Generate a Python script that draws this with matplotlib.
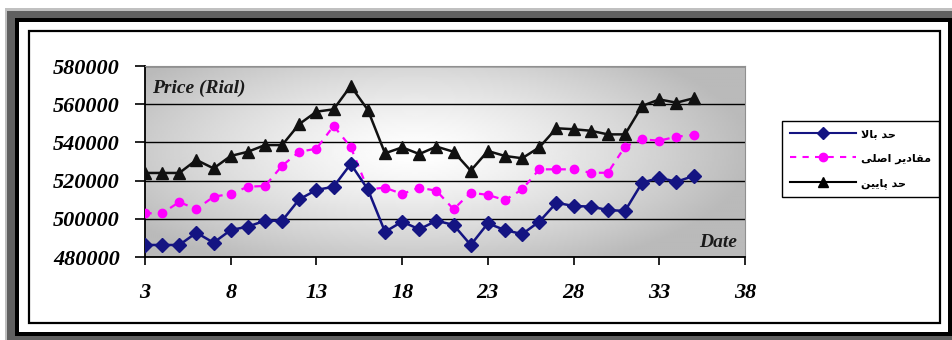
import numpy as np
import matplotlib
matplotlib.use('Agg')
import matplotlib.pyplot as plt
from matplotlib.patches import Rectangle
from matplotlib.lines import Line2D

# data
days = [3, 4, 5, 6, 7, 8, 9, 10, 11, 12, 13, 14, 15, 16, 17, 18, 19,
        20, 21, 22, 23, 24, 25, 26, 27, 28, 29, 30, 31, 32, 33, 34, 35]
upper = [486300, 486300, 486300, 492700, 487500, 494100, 495900, 499000, 499000,
         510200, 515100, 516800, 528700, 515400, 493200, 498500, 494500, 499000,
         496800, 486300, 497600, 494100, 492000, 498500, 508400, 506700, 506400,
         504600, 504100, 518900, 521500, 519400, 522400]
actual = [502900, 502900, 508800, 505000, 511600, 513000, 516800, 517200, 527800,
          535100, 536700, 548600, 537600, 515400, 516300, 513000, 516300, 514700,
          505000, 513700, 512500, 509800, 515400, 525900, 525900, 525900, 524100,
          524100, 537800, 541600, 540900, 543000, 543900]
lower = [524000, 524000, 524000, 530800, 526400, 532900, 535100, 538600, 538600,
         549600, 556100, 557300, 569500, 557000, 534300, 537400, 533900, 537800,
         535100, 525200, 535500, 532900, 531700, 537400, 547400, 546900, 546100,
         544200, 544200, 559100, 562500, 560800, 563100]
labels = ['حد بالا', 'مقادیر اصلی', 'حد پایین']
xticks = [3, 8, 13, 18, 23, 28, 33, 38]
yticks = [480000, 500000, 520000, 540000, 560000, 580000]

# tick labels etc. are bold italic serif
plt.rcParams['font.family'] = ['Liberation Serif']
plt.rcParams['font.weight'] = 'bold'
plt.rcParams['font.style'] = 'italic'

# matplotlib does no arabic shaping, so pick presentation forms by hand
FORMS = {
    'ا': ('\uFE8D', '\uFE8E', None, None),
    'ب': ('\uFE8F', '\uFE90', '\uFE91', '\uFE92'),
    'پ': ('\uFB56', '\uFB57', '\uFB58', '\uFB59'),
    'ح': ('\uFEA1', '\uFEA2', '\uFEA3', '\uFEA4'),
    'د': ('\uFEA9', '\uFEAA', None, None),
    'ر': ('\uFEAD', '\uFEAE', None, None),
    'ص': ('\uFEB9', '\uFEBA', '\uFEBB', '\uFEBC'),
    'ق': ('\uFED5', '\uFED6', '\uFED7', '\uFED8'),
    'ل': ('\uFEDD', '\uFEDE', '\uFEDF', '\uFEE0'),
    'م': ('\uFEE1', '\uFEE2', '\uFEE3', '\uFEE4'),
    'ن': ('\uFEE5', '\uFEE6', '\uFEE7', '\uFEE8'),
    'ی': ('\uFBFC', '\uFBFD', '\uFBFE', '\uFBFF'),
}


def shape(s):
    out = []
    i = 0
    while i < len(s):
        c = s[i]
        if c not in FORMS:
            out.append(c)
            i += 1
            continue
        prev = s[i-1] if i > 0 else None
        join_prev = prev in FORMS and FORMS[prev][2] is not None
        if c == 'ل' and i + 1 < len(s) and s[i+1] == 'ا':
            out.append('\uFEFC' if join_prev else '\uFEFB')
            i += 2
            continue
        nxt = s[i+1] if i + 1 < len(s) else None
        join_next = FORMS[c][2] is not None and nxt in FORMS
        iso, fin, ini, med = FORMS[c]
        if join_prev and join_next:
            out.append(med)
        elif join_prev:
            out.append(fin)
        elif join_next:
            out.append(ini)
        else:
            out.append(iso)
        i += 1
    return ''.join(reversed(out))


W, H = 953, 340
fig = plt.figure(figsize=(W/100, H/100), dpi=100)
fig.patch.set_facecolor('white')


def box(x0, y0, x1, y1, **kw):
    # pixel box, origin top-left, drawn under the axes
    r = Rectangle((x0/W, 1 - y1/H), (x1-x0)/W, (y1-y0)/H, transform=fig.transFigure,
                  zorder=-5, **kw)
    fig.add_artist(r)


# outer frame
box(5, 8, 953, 340, facecolor='#c0c0c0', edgecolor='none')
box(7, 11, 953, 340, facecolor='#606060', edgecolor='none')
box(15, 18, 953, 336, facecolor='black', edgecolor='none')
box(19, 22, 948, 332, facecolor='white', edgecolor='none')
box(29, 31, 940, 323, facecolor='none', edgecolor='black', linewidth=1.6)

ax = fig.add_axes([145/W, 1 - 257/H, 600/W, 191/H])

# plot area shading, light in the middle, grey towards the edges
gx, gy = np.meshgrid(np.linspace(0, 1, 300), np.linspace(0, 1, 100))
r = np.sqrt(((gx - 0.45)/0.75)**2 + ((gy - 0.55)/0.9)**2)
shade = 1.0 - 0.27*np.clip(r/0.75, 0, 1)**1.3
ax.imshow(shade, extent=[0, 1, 0, 1], transform=ax.transAxes, aspect='auto',
          cmap='gray', vmin=0, vmax=1, zorder=0, origin='lower')

ax.plot(days, upper, color='#141482', linewidth=1.8, marker='D', markersize=7.5, zorder=4)
ax.plot(days, actual, color='#ff00ff', linewidth=1.6, linestyle=(0, (3, 3)),
        marker='o', markersize=6, zorder=3)
ax.plot(days, lower, color='#111111', linewidth=1.8, marker='^', markersize=8.5, zorder=4)

ax.set_xlim(3, 38)
ax.set_ylim(480000, 580000)
ax.set_xticks(xticks)
ax.set_yticks(yticks)
ax.set_xticklabels([str(t) for t in xticks])
ax.set_yticklabels([str(t) for t in yticks])
ax.yaxis.grid(True, color='black', linewidth=1.0, zorder=1)
ax.set_axisbelow(True)
ax.tick_params(axis='x', direction='out', length=6, width=1.2, pad=13, labelsize=16)
ax.tick_params(axis='y', direction='out', length=7, width=1.2, pad=11, labelsize=16)
ax.spines['left'].set_color('black')
ax.spines['bottom'].set_color('black')
ax.spines['left'].set_linewidth(1.3)
ax.spines['bottom'].set_linewidth(1.3)
ax.spines['top'].set_color('#909090')
ax.spines['right'].set_color('#909090')

ax.text(0.012, 0.859, 'Price (Rial)', transform=ax.transAxes, va='baseline', ha='left',
        fontsize=14, color='#1a1a1a')
ax.text(0.987, 0.052, 'Date', transform=ax.transAxes, va='baseline', ha='right',
        fontsize=14, color='#1a1a1a')

handles = [
    Line2D([], [], color='#141482', linewidth=1.5, marker='D', markersize=6.5),
    Line2D([], [], color='#ff00ff', linewidth=1.5, linestyle=(0, (3, 3)), marker='o', markersize=6),
    Line2D([], [], color='black', linewidth=1.5, marker='^', markersize=7.5),
]
leg = fig.legend(handles, [shape(t) for t in labels], loc='upper left',
                 bbox_to_anchor=(782/W, 1 - 121/H), borderaxespad=0, fancybox=False,
                 handlelength=6.0, handletextpad=0.45, labelspacing=1.3, borderpad=0.7,
                 prop={'family': 'DejaVu Sans', 'weight': 'bold', 'style': 'normal', 'size': 8})
leg.get_frame().set_edgecolor('black')
leg.get_frame().set_linewidth(1.0)
leg.get_frame().set_alpha(1)

fig.savefig('out.png', dpi=100)
